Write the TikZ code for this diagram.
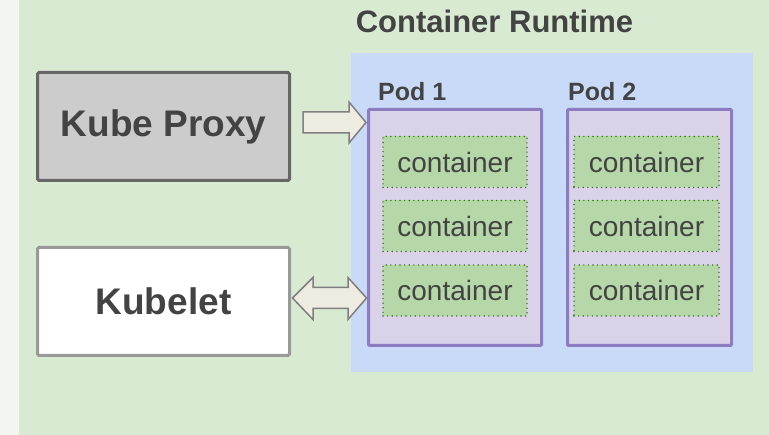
\documentclass[tikz,border=0pt]{standalone}
\usepackage{fontspec}
\setmainfont{Liberation Sans}
\definecolor{bggreen}{HTML}{D9EAD3}
\definecolor{strip}{HTML}{F2F6F0}
\definecolor{txt}{HTML}{434343}
\definecolor{kpfill}{HTML}{CCCCCC}
\definecolor{kpdraw}{HTML}{666666}
\definecolor{kldraw}{HTML}{999999}
\definecolor{rtblue}{HTML}{C9DAF8}
\definecolor{podfill}{HTML}{D9D2E9}
\definecolor{poddraw}{HTML}{8E7CC3}
\definecolor{ctfill}{HTML}{B6D7A8}
\definecolor{ctdraw}{HTML}{38761D}
\definecolor{arfill}{HTML}{EEECE1}
\definecolor{ardraw}{HTML}{7F7F7F}
\tikzset{
  box/.style={rectangle, line width=3pt, rounded corners=1.5pt, inner sep=0pt, outer sep=0pt,
    minimum width=252pt, minimum height=108pt, text=txt,
    font=\fontsize{37}{44}\selectfont\bfseries},
  podbox/.style={rectangle, draw=poddraw, fill=podfill, line width=3pt, rounded corners=1pt,
    inner sep=0pt, minimum height=236pt},
  ctbox/.style={rectangle, draw=ctdraw, fill=ctfill, line width=1.6pt, line cap=round,
    dash pattern=on 0pt off 4.6pt, inner sep=0pt, minimum height=51pt, text=txt,
    font=\fontsize{28}{34}\selectfont},
  lbl/.style={inner sep=0pt, text=txt, font=\fontsize{25}{30}\selectfont\bfseries},
  blockarrow/.style={fill=arfill, draw=ardraw, line width=1.5pt, line join=miter},
}
\begin{document}
\begin{tikzpicture}[x=1pt, y=-1pt]
\useasboundingbox (0,0) rectangle (769,435);
\fill[strip] (0,0) rectangle (19,435);
\fill[bggreen] (19,0) rectangle (769,435);
% runtime
\node[fill=rtblue, minimum width=402pt, minimum height=319pt, inner sep=0pt] (rt) at (552,212.5) {};
\node[anchor=base, inner sep=0pt, text=txt, font=\fontsize{31}{37}\selectfont\bfseries] (rttitle) at (494.5,33) {Container Runtime};
% left boxes
\node[box, draw=kpdraw, fill=kpfill] (kp) at (163.5,126.5) {Kube Proxy};
\node[box, draw=kldraw, fill=white] (kl) at (163.5,301.5) {Kubelet};
% pods
\node[podbox, minimum width=173pt] (pod1) at (455,227.5) {};
\node[podbox, minimum width=164pt] (pod2) at (649.5,227.5) {};
\node[lbl, anchor=base west] (p1lbl) at (378,101) {Pod 1};
\node[lbl, anchor=base west] (p2lbl) at (568,101) {Pod 2};
% containers
\foreach \i/\y in {1/162,2/226,3/290.5}{
  \node[ctbox, minimum width=144pt] (c1\i) at (455,\y) {container};
  \node[ctbox, minimum width=145pt] (c2\i) at (646.5,\y) {container};
}
% arrows
\draw[blockarrow] (303,112) -- (349,112) -- (349,102) -- (366,122.5) -- (349,143) -- (349,133) -- (303,133) -- cycle;
\draw[blockarrow] (292.5,298) -- (313,277.5) -- (313,287.5) -- (348,287.5) -- (348,277.5) -- (366.5,298)
  -- (348,319.5) -- (348,308.5) -- (313,308.5) -- (313,319.5) -- cycle;
\end{tikzpicture}
\end{document}
